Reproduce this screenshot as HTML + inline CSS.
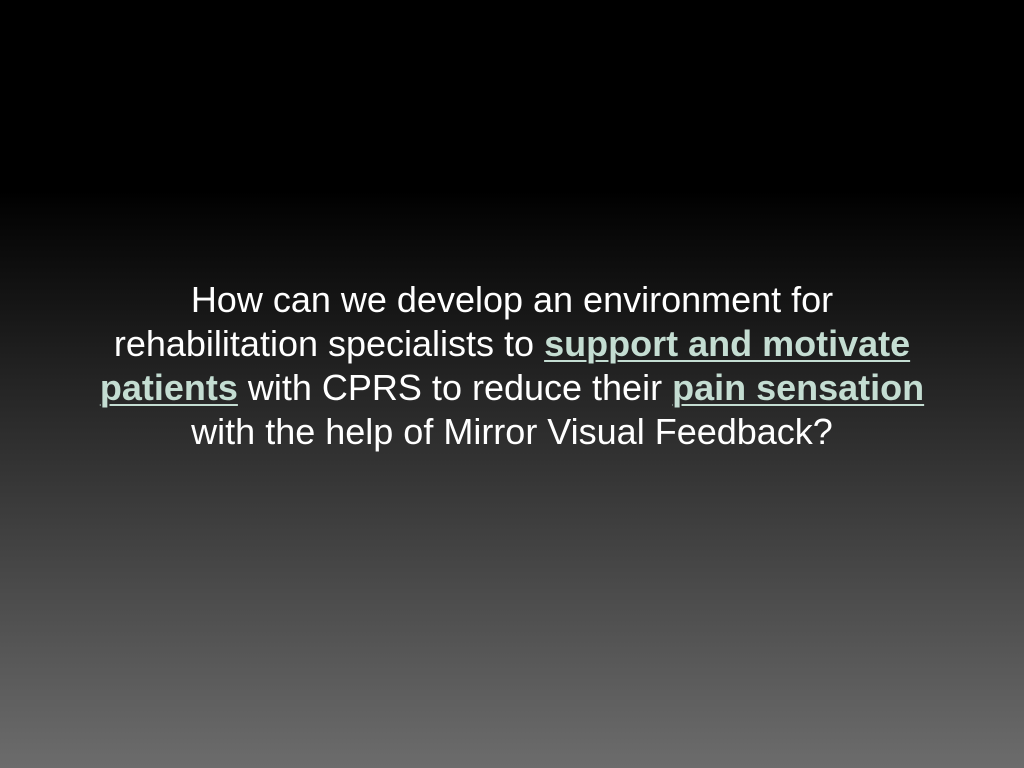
<!DOCTYPE html>
<html><head><meta charset="utf-8"><style>
html,body{margin:0;padding:0;}
body{width:1024px;height:768px;overflow:hidden;position:relative;
background:linear-gradient(to bottom,#000 0px,#000 190px,#6c6c6c 768px);
font-family:"Liberation Sans",Arial,sans-serif;}
.q{position:absolute;left:0;top:278px;width:1024px;text-align:center;color:#fff;font-size:36px;line-height:44px;white-space:nowrap;}
.h{color:#c4ddd2;font-weight:bold;text-decoration:underline;text-decoration-thickness:2px;text-underline-offset:4px;}
</style></head><body>
<div class="q">
How can we develop an environment for<br>
rehabilitation specialists to <span class="h">support and motivate</span><br>
<span class="h">patients</span> with CPRS to reduce their <span class="h">pain sensation</span><br>
with the help of Mirror Visual Feedback?
</div>
</body></html>
